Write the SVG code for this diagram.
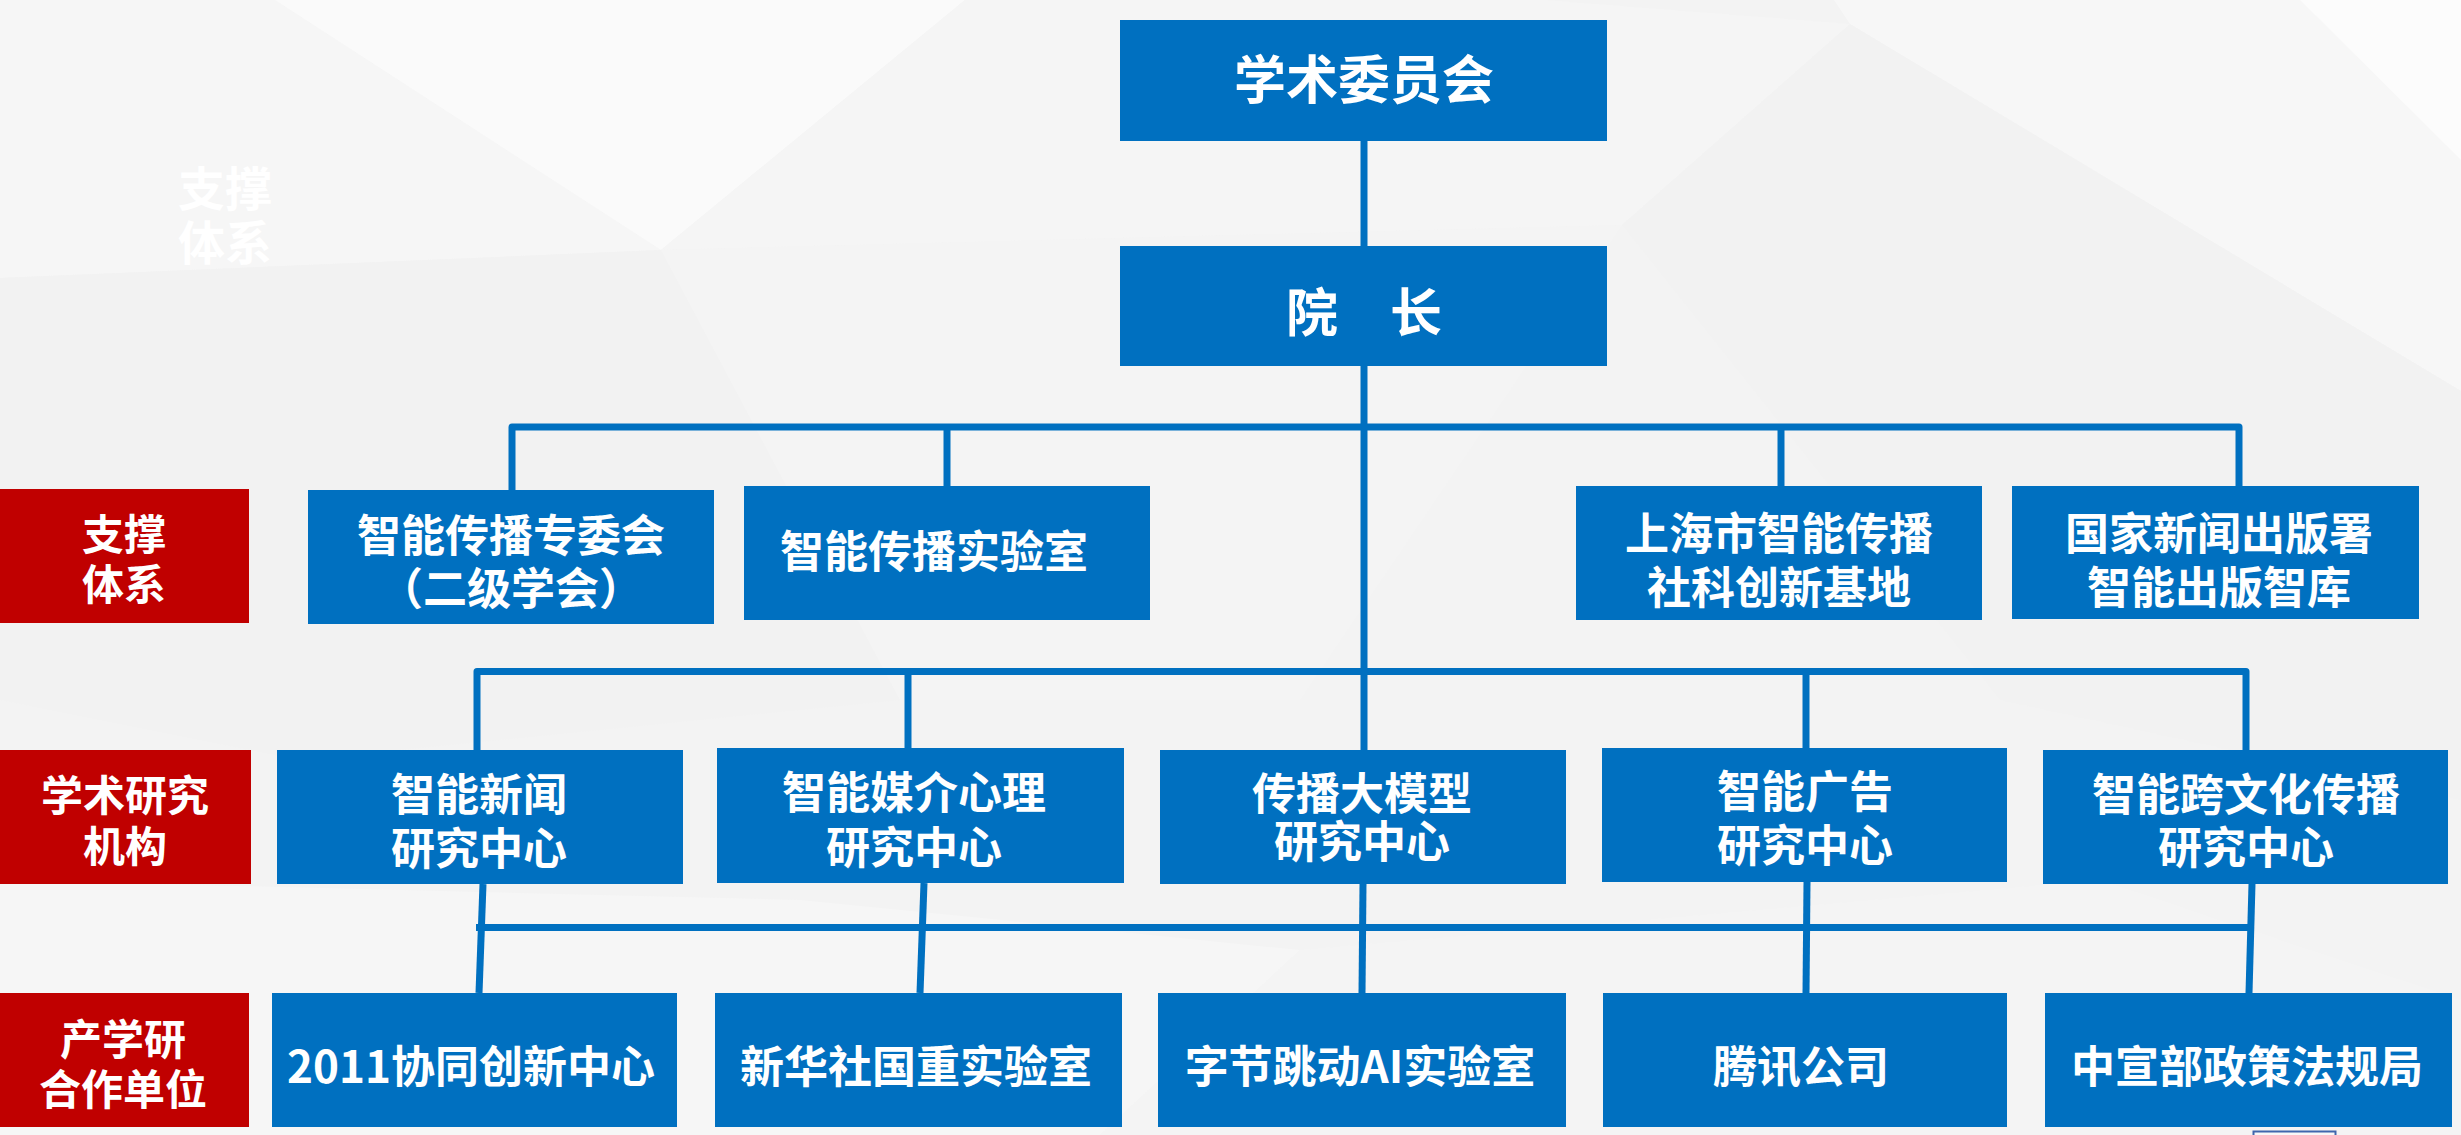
<svg xmlns="http://www.w3.org/2000/svg" width="2461" height="1135" viewBox="0 0 2461 1135">
<style>
.box{fill:#0070C0}
.lbl{fill:#C00000}
.t{font-family:"Noto Sans CJK SC","Noto Sans CJK JP",sans-serif;font-weight:700;fill:#fff;text-anchor:middle;dominant-baseline:central}
.t52{font-size:52px}
.t44{font-size:44px}
.t42{font-size:42px}
.conn{stroke:#0070C0;stroke-width:7;fill:none;stroke-linejoin:round;stroke-linecap:butt}
</style>
<defs>
<linearGradient id="fade" x1="0" y1="0" x2="0" y2="1">
<stop offset="0" stop-color="#ffffff" stop-opacity="1"/>
<stop offset="0.5" stop-color="#ffffff" stop-opacity="0.9"/>
<stop offset="1" stop-color="#ffffff" stop-opacity="0.2"/>
</linearGradient>
</defs>
<g id="background">
<rect x="0" y="0" width="2461" height="1135" fill="#f3f3f3"/>
<polygon points="0,0 275,0 661,250 0,278" fill="#f6f6f6"/>
<polygon points="275,0 965,0 661,250" fill="#fafafa"/>
<polygon points="965,0 1544,0 1850,24 1622,225 661,250" fill="#f5f5f5"/>
<polygon points="1834,0 2461,0 2461,391 1850,24" fill="#f7f7f7"/>
<polygon points="2300,0 2461,0 2461,160" fill="#fcfcfc"/>
<polygon points="0,278 661,250 900,700 300,760 0,700" fill="#f2f2f2"/>
<polygon points="661,250 1622,225 1300,700 900,700" fill="#f4f4f4"/>
<polygon points="1622,225 1850,24 2461,391 2461,800 2000,700" fill="#f2f2f2"/>
<polygon points="0,880 800,900 1300,950 1100,1135 0,1135" fill="#f6f6f6"/>
<polygon points="1300,950 2100,880 2461,1000 2461,1135 1100,1135" fill="#f4f4f4"/>
</g>
<g id="ghost-label">
<text class="t" style="font-size:47px" fill="url(#fade)"><tspan x="225" y="185" fill="#ffffff">支撑</tspan><tspan x="225" dy="54">体系</tspan></text>
</g>
<g id="connectors">
<line class="conn" x1="1364" y1="141" x2="1364" y2="246"/>
<line class="conn" x1="1364" y1="366" x2="1364" y2="750"/>
<path class="conn" d="M512,490 V427 H2239 V486"/>
<line class="conn" x1="947" y1="427" x2="947" y2="486"/>
<line class="conn" x1="1781" y1="427" x2="1781" y2="486"/>
<path class="conn" d="M477,750 V671.5 H2246 V750"/>
<line class="conn" x1="908" y1="671.5" x2="908" y2="748"/>
<line class="conn" x1="1806" y1="671.5" x2="1806" y2="748"/>
<line class="conn" x1="476" y1="927.5" x2="2250" y2="927.5"/>
<line class="conn" x1="483" y1="884" x2="479" y2="993"/>
<line class="conn" x1="924" y1="883" x2="920" y2="993"/>
<line class="conn" x1="1363" y1="884" x2="1362" y2="993"/>
<line class="conn" x1="1807" y1="882" x2="1806" y2="993"/>
<line class="conn" x1="2252" y1="884" x2="2249" y2="993"/>
</g>
<g id="n-committee">
<rect class="box" x="1120" y="20" width="487" height="121"/>
<text class="t t52" x="1364" y="76">学术委员会</text>
</g>
<g id="n-dean">
<rect class="box" x="1120" y="246" width="487" height="120"/>
<text class="t t52" x="1364" y="309">院　长</text>
</g>
<g id="lbl-support">
<rect class="lbl" x="0" y="489" width="249" height="134"/>
<text class="t t42"><tspan x="124" y="531">支撑</tspan><tspan x="124" dy="50">体系</tspan></text>
</g>
<g id="n-s1">
<rect class="box" x="308" y="490" width="406" height="134"/>
<text class="t t44"><tspan x="511" y="533">智能传播专委会</tspan><tspan x="511" dy="53">（二级学会）</tspan></text>
</g>
<g id="n-s2">
<rect class="box" x="744" y="486" width="406" height="134"/>
<text class="t t44" x="934" y="549">智能传播实验室</text>
</g>
<g id="n-s3">
<rect class="box" x="1576" y="486" width="406" height="134"/>
<text class="t t44"><tspan x="1779" y="531">上海市智能传播</tspan><tspan x="1779" dy="54">社科创新基地</tspan></text>
</g>
<g id="n-s4">
<rect class="box" x="2012" y="486" width="407" height="133"/>
<text class="t t44"><tspan x="2219" y="531">国家新闻出版署</tspan><tspan x="2219" dy="54">智能出版智库</tspan></text>
</g>
<g id="lbl-research">
<rect class="lbl" x="0" y="750" width="251" height="134"/>
<text class="t t42"><tspan x="125" y="792">学术研究</tspan><tspan x="125" dy="51">机构</tspan></text>
</g>
<g id="n-r1">
<rect class="box" x="277" y="750" width="406" height="134"/>
<text class="t t44"><tspan x="479" y="792">智能新闻</tspan><tspan x="479" dy="54">研究中心</tspan></text>
</g>
<g id="n-r2">
<rect class="box" x="717" y="748" width="407" height="135"/>
<text class="t t44"><tspan x="914" y="790">智能媒介心理</tspan><tspan x="914" dy="55">研究中心</tspan></text>
</g>
<g id="n-r3">
<rect class="box" x="1160" y="750" width="406" height="134"/>
<text class="t t44"><tspan x="1362" y="791">传播大模型</tspan><tspan x="1362" dy="48">研究中心</tspan></text>
</g>
<g id="n-r4">
<rect class="box" x="1602" y="748" width="405" height="134"/>
<text class="t t44"><tspan x="1805" y="789">智能广告</tspan><tspan x="1805" dy="54">研究中心</tspan></text>
</g>
<g id="n-r5">
<rect class="box" x="2043" y="750" width="405" height="134"/>
<text class="t t44"><tspan x="2246" y="792">智能跨文化传播</tspan><tspan x="2246" dy="53">研究中心</tspan></text>
</g>
<g id="lbl-partner">
<rect class="lbl" x="0" y="993" width="249" height="134"/>
<text class="t t42"><tspan x="123" y="1036">产学研</tspan><tspan x="123" dy="50">合作单位</tspan></text>
</g>
<g id="n-p1">
<rect class="box" x="272" y="993" width="405" height="134"/>
<text class="t t44" x="471" y="1064">2011协同创新中心</text>
</g>
<g id="n-p2">
<rect class="box" x="715" y="993" width="407" height="134"/>
<text class="t t44" x="916" y="1064">新华社国重实验室</text>
</g>
<g id="n-p3">
<rect class="box" x="1158" y="993" width="408" height="134"/>
<text class="t t44" x="1360" y="1064">字节跳动AI实验室</text>
</g>
<g id="n-p4">
<rect class="box" x="1603" y="993" width="404" height="134"/>
<text class="t t44" x="1801" y="1064">腾讯公司</text>
</g>
<g id="n-p5">
<rect class="box" x="2045" y="993" width="407" height="134"/>
<text class="t t44" x="2247" y="1064">中宣部政策法规局</text>
</g>
<rect x="2253.5" y="1131.5" width="82" height="10" fill="#f7f7f7" stroke="#3f66ad" stroke-width="2"/>
</svg>
